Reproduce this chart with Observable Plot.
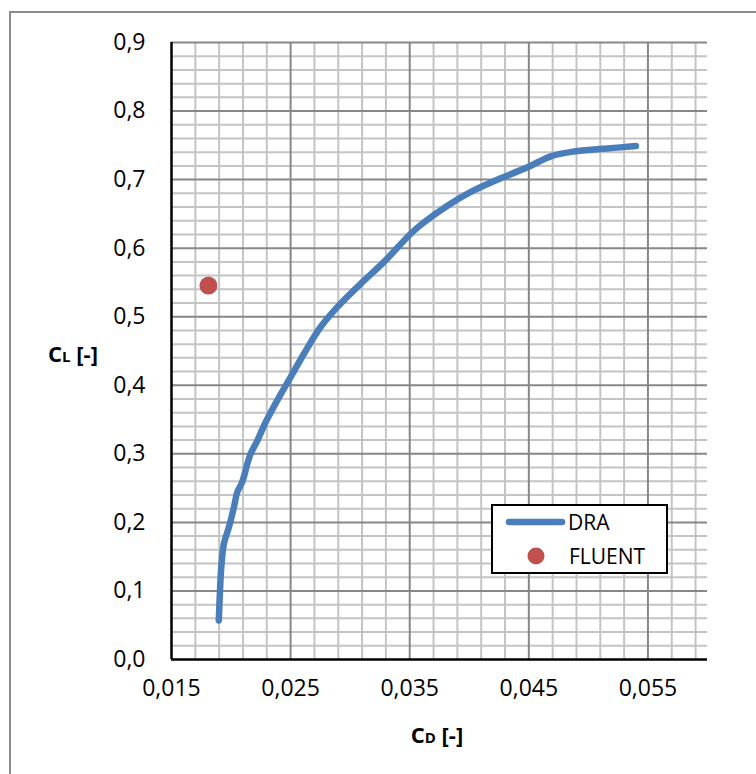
<!DOCTYPE html>
<html>
<head>
<meta charset="utf-8">
<script src="https://cdn.jsdelivr.net/npm/d3@7"></script>
<script src="https://cdn.jsdelivr.net/npm/@observablehq/plot@0.6"></script>
<style>
  html, body { margin: 0; padding: 0; background: #fff; }
  #chart { width: 756px; height: 774px; position: relative; }
  svg { font-family: "Open Sans", "DejaVu Sans", sans-serif; }
</style>
</head>
<body>
<div id="chart"></div>
<script>
// DRA polar curve (CD, CL)
const draCD = [0.01897, 0.01906, 0.01918, 0.01940, 0.01982, 0.02024, 0.02052, 0.02094, 0.02136, 0.02164,
               0.02220, 0.02290, 0.02388, 0.02500, 0.02612, 0.02752, 0.02892, 0.03088, 0.03284, 0.03508,
               0.03607, 0.03817, 0.04013, 0.04292, 0.04489, 0.04685, 0.04881, 0.05133, 0.05399];
const draCL = [0.057, 0.096, 0.135, 0.169, 0.193, 0.222, 0.244, 0.259, 0.285, 0.300,
               0.319, 0.346, 0.378, 0.412, 0.446, 0.485, 0.514, 0.548, 0.580, 0.621,
               0.636, 0.662, 0.682, 0.704, 0.718, 0.734, 0.741, 0.745, 0.749];
// FLUENT point
const fluentCD = [0.0181];
const fluentCL = [0.5455];

// Axis ticks
const xTicks = [0.015, 0.025, 0.035, 0.045, 0.055];
const yTicks = [0.0, 0.1, 0.2, 0.3, 0.4, 0.5, 0.6, 0.7, 0.8, 0.9];
const xMinor = d3.range(1, 23).map(k => +(0.015 + 0.002 * k).toFixed(4)).filter(v => !xTicks.includes(v));
const yMinor = d3.range(1, 45).map(k => +(0.02 * k).toFixed(3)).filter((v, i) => (i + 1) % 5 !== 0);

const dra = draCD.map((cd, i) => ({cd, cl: draCL[i]}));
const fluent = fluentCD.map((cd, i) => ({cd, cl: fluentCL[i]}));

const fmtX = d => d.toFixed(3).replace(".", ",");
const fmtY = d => d.toFixed(1).replace(".", ",");

const plot = Plot.plot({
  width: 756,
  height: 774,
  marginLeft: 171,
  marginTop: 42,
  marginRight: 49,
  marginBottom: 115,
  style: {fontFamily: "'Open Sans', sans-serif", fontSize: "23px", background: "#fff", overflow: "visible"},
  x: {domain: [0.015, 0.060]},
  y: {domain: [0, 0.9]},
  marks: [
    Plot.ruleX(xMinor, {stroke: "#c4c4c4", strokeWidth: 2}),
    Plot.ruleY(yMinor, {stroke: "#c4c4c4", strokeWidth: 2}),
    Plot.ruleX(xTicks.slice(1), {stroke: "#878787", strokeWidth: 2}),
    Plot.ruleY(yTicks.slice(1), {stroke: "#878787", strokeWidth: 2}),
    Plot.ruleX([0.015], {stroke: "#000", strokeWidth: 2.5}),
    Plot.ruleY([0], {stroke: "#000", strokeWidth: 2.5}),
    Plot.axisX({ticks: xTicks, tickFormat: fmtX, tickSize: 0, tickPadding: 20, label: null, fill: "#000", fontSize: 23}),
    Plot.axisY({ticks: yTicks, tickFormat: fmtY, tickSize: 0, tickPadding: 26, label: null, fill: "#000", fontSize: 23}),
    Plot.line(dra, {x: "cd", y: "cl", stroke: "#4a7ebb", strokeWidth: 6.5, strokeLinecap: "round", strokeLinejoin: "round", curve: "catmull-rom"}),
    Plot.dot(fluent, {x: "cd", y: "cl", r: 9, fill: "#c0504d", stroke: "none"})
  ]
});

document.getElementById("chart").appendChild(plot);

const svg = d3.select(plot);
// outer chart frame
svg.insert("rect", ":first-child")
  .attr("x", 10).attr("y", 12).attr("width", 770).attr("height", 780)
  .attr("fill", "none").attr("stroke", "#8c8c8c").attr("stroke-width", 2);

// axis titles
function title(x, y, main, sub) {
  const t = svg.append("text").attr("x", x).attr("y", y)
    .attr("text-anchor", "middle").attr("font-weight", "bold").attr("font-size", 22).attr("fill", "#000");
  t.append("tspan").text(main);
  t.append("tspan").attr("font-size", 15).text(sub);
  t.append("tspan").text(" [-]");
}
title(73, 362, "C", "L");
title(437, 743, "C", "D");

// legend
const lg = svg.append("g").attr("text-anchor", "start");
lg.append("rect").attr("x", 492).attr("y", 505).attr("width", 175).attr("height", 68)
  .attr("fill", "#fff").attr("stroke", "#000").attr("stroke-width", 2);
lg.append("line").attr("x1", 509).attr("x2", 562).attr("y1", 522).attr("y2", 522)
  .attr("stroke", "#4a7ebb").attr("stroke-width", 6.5).attr("stroke-linecap", "round");
lg.append("text").attr("x", 568).attr("y", 530).attr("text-anchor", "start").attr("font-size", 21).attr("fill", "#000").text("DRA");
lg.append("circle").attr("cx", 536).attr("cy", 556).attr("r", 8.5).attr("fill", "#c0504d");
lg.append("text").attr("x", 569).attr("y", 564).attr("text-anchor", "start").attr("font-size", 21).attr("fill", "#000").text("FLUENT");
</script>
</body>
</html>
